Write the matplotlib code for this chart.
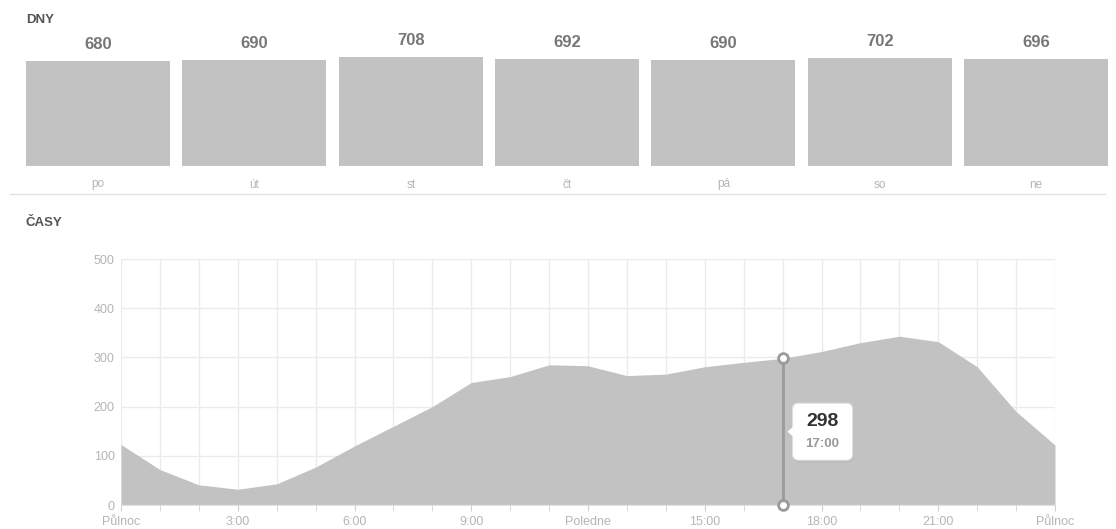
import matplotlib.pyplot as plt
import matplotlib.patches as mpatches
import matplotlib.transforms as mtransforms
from matplotlib.lines import Line2D
import numpy as np

plt.rcParams['font.family'] = ['Liberation Sans', 'DejaVu Sans']

# data
days = ['po', 'út', 'st', 'čt', 'pá', 'so', 'ne']
day_counts = [680, 690, 708, 692, 690, 702, 696]

hours = np.arange(25)
hour_counts = [123, 72, 41, 32, 43, 77, 120, 160, 200, 249, 261, 285, 283,
               263, 266, 281, 290, 298, 312, 330, 343, 332, 281, 190, 122]
hour_ticks = [0, 3, 6, 9, 12, 15, 18, 21, 24]
hour_labels = ['Půlnoc', '3:00', '6:00', '9:00', 'Poledne', '15:00', '18:00', '21:00', 'Půlnoc']
sel_hour = 17

W, H = 1116, 529
fig = plt.figure(figsize=(W / 100, H / 100), dpi=100)
fig.patch.set_facecolor('white')

def px_axes(x0, y0, x1, y1):
    # pixel box (top-left origin) -> axes
    return fig.add_axes([x0 / W, 1 - y1 / H, (x1 - x0) / W, (y1 - y0) / H])

bar_col = '#c2c2c2'

# --- DNY
fig.text(26 / W, 1 - 20 / H, 'DNY', fontsize=9.5, fontweight='bold', color='#555555', va='center')
ax1 = px_axes(19.85, 57, 1114.2, 166)
x = np.arange(len(days))
ax1.bar(x, day_counts, width=0.921, color=bar_col, edgecolor='none')
ax1.set_xlim(-0.5, len(days) - 0.5)
ax1.set_ylim(0, max(day_counts))
for xi, v in zip(x, day_counts):
    ax1.annotate(str(v), (xi, v), xytext=(0, 12), textcoords='offset points',
                 ha='center', va='center', fontsize=12, fontweight='bold',
                 color='#777777', annotation_clip=False)
ax1.set_xticks(x)
ax1.set_xticklabels(days, fontsize=8.5, color='#b5b5b5')
ax1.tick_params(axis='x', length=0, pad=9)
ax1.set_yticks([])
for s in ax1.spines.values():
    s.set_visible(False)

fig.add_artist(Line2D([10 / W, 1105 / W], [1 - 194 / H] * 2, color='#e3e3e3', lw=1))

# --- ČASY
fig.text(26 / W, 1 - 223 / H, 'ČASY', fontsize=9.5, fontweight='bold', color='#555555', va='center')
ax2 = px_axes(121, 259, 1055, 505)
ax2.set_xlim(0, 24)
ax2.set_ylim(0, 500)
ax2.fill_between(hours, hour_counts, 0, color=bar_col, lw=0, zorder=2)
ax2.set_xticks(hours, minor=True)
ax2.set_xticks(hour_ticks)
ax2.set_xticklabels(hour_labels, fontsize=9, color='#b5b5b5')
ax2.set_yticks(np.arange(0, 501, 100))
ax2.tick_params(axis='y', length=0, pad=4.5, labelsize=9, labelcolor='#b5b5b5')
ax2.tick_params(axis='x', which='both', length=4, color='#d0d0d0', pad=4)
ax2.grid(True, which='both', color='#ebebeb', lw=1, zorder=1)
ax2.set_axisbelow(True)
for s in ax2.spines.values():
    s.set_visible(False)
ax2.axhline(0, color='#dddddd', lw=1, zorder=3)

# hover marker
v = hour_counts[sel_hour]
ax2.plot([sel_hour, sel_hour], [0, v], color='#9a9a9a', lw=2, zorder=4)
ax2.plot([sel_hour, sel_hour], [0, v], 'o', ms=7, mfc='white', mec='#9a9a9a', mew=2,
         zorder=5, clip_on=False)

# tooltip box, anchored right of the line at half height
ax2.figure.canvas.draw()
px, py = ax2.transData.transform((sel_hour, v / 2))
bw, bh = 60, 57
bx, by = px + 10, py - bh / 2
shadow = mpatches.FancyBboxPatch((bx + 1, by - 2), bw, bh, boxstyle='round,pad=0,rounding_size=6',
                                 transform=mtransforms.IdentityTransform(),
                                 facecolor='#b0b0b0', edgecolor='none', alpha=0.5, zorder=6)
box = mpatches.FancyBboxPatch((bx, by), bw, bh, boxstyle='round,pad=0,rounding_size=6',
                              transform=mtransforms.IdentityTransform(),
                              facecolor='white', edgecolor='#e0e0e0', lw=0.8, zorder=7)
arrow = mpatches.Polygon([[bx + 0.5, py + 5], [bx - 5, py], [bx + 0.5, py - 5]],
                         transform=mtransforms.IdentityTransform(),
                         facecolor='white', edgecolor='none', zorder=8)
fig.add_artist(shadow)
fig.add_artist(box)
fig.add_artist(arrow)
fig.text((bx + bw / 2) / W, (py + 10) / H, str(v), fontsize=14, fontweight='bold',
         color='#333333', ha='center', va='center', zorder=9)
fig.text((bx + bw / 2) / W, (py - 12) / H, '%d:00' % sel_hour, fontsize=9.5, fontweight='bold',
         color='#999999', ha='center', va='center', zorder=9)

fig.savefig('out.png', dpi=100)
